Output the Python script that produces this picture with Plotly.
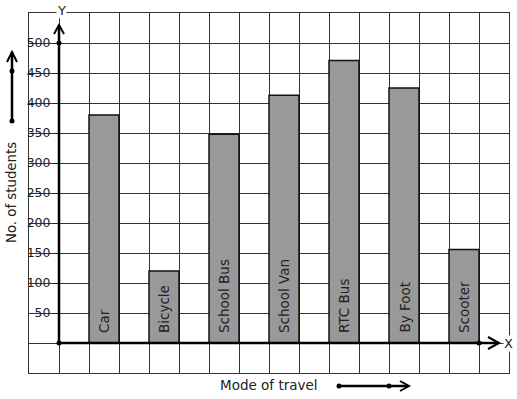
import plotly.graph_objects as go

# ---- data ----
modes = ["Car", "Bicycle", "School Bus", "School Van", "RTC Bus", "By Foot", "Scooter"]
students = [380, 120, 348, 413, 471, 425, 156]
y_tick_vals = [50, 100, 150, 200, 250, 300, 350, 400, 450, 500]
y_tick_text = [str(v) for v in y_tick_vals]
grid_y = list(range(-50, 551, 50))

W, H = 517, 399
L, R, T, B = 29, 8, 13, 26
PW, PH = W - L - R, H - T - B
FONT = "DejaVu Sans"
INK = "#222222"
GRID = "#333333"


def px(xp):
    return (xp - L) / PW


def py(yp):
    return (H - B - yp) / PH


x_pos = [1.5 + 2 * i for i in range(len(modes))]

fig = go.Figure()
fig.add_bar(
    x=x_pos, y=students, width=1,
    marker=dict(color="#999999", line=dict(color="#111111", width=1.5)),
    hoverinfo="skip", showlegend=False,
)
fig.add_scatter(x=[0], y=[0], yaxis="y2", mode="markers",
                marker=dict(opacity=0), showlegend=False, hoverinfo="skip")

shapes = []
# thick axes
y_top = 530
x_end = 14.667
shapes.append(dict(type="line", xref="x", yref="y", x0=0, x1=0, y0=0, y1=y_top,
                   line=dict(color="black", width=2.5)))
shapes.append(dict(type="path", xref="x", yref="y", xsizemode="pixel", ysizemode="pixel",
                   xanchor=0, yanchor=y_top, path="M-5,-9 L0,0 L5,-9",
                   line=dict(color="black", width=2)))
shapes.append(dict(type="line", xref="x", yref="y", x0=0, x1=x_end, y0=0, y1=0,
                   line=dict(color="black", width=2.5)))
shapes.append(dict(type="path", xref="x", yref="y", xsizemode="pixel", ysizemode="pixel",
                   xanchor=x_end, yanchor=0, path="M-11,6 L0,0 L-11,-6",
                   line=dict(color="black", width=2)))
for (dx, dy) in [(0, 0), (0, 500), (14, 0)]:
    shapes.append(dict(type="circle", xref="x", yref="y", xsizemode="pixel", ysizemode="pixel",
                       xanchor=dx, yanchor=dy, x0=-2.5, x1=2.5, y0=-2.5, y1=2.5,
                       fillcolor="black", line=dict(color="black", width=0)))

# left decorative arrow
shapes.append(dict(type="line", xref="paper", yref="paper", x0=px(12), x1=px(12),
                   y0=py(121), y1=py(52), line=dict(color="black", width=2.5)))
shapes.append(dict(type="path", xref="paper", yref="paper", xsizemode="pixel", ysizemode="pixel",
                   xanchor=px(12), yanchor=py(52), path="M-5,-10 L0,0 L5,-10",
                   line=dict(color="black", width=2)))
# bottom decorative arrow
shapes.append(dict(type="line", xref="paper", yref="paper", x0=px(339), x1=px(408),
                   y0=py(386), y1=py(386), line=dict(color="black", width=2.5)))
shapes.append(dict(type="path", xref="paper", yref="paper", xsizemode="pixel", ysizemode="pixel",
                   xanchor=px(409), yanchor=py(386), path="M-9,5 L0,0 L-9,-5",
                   line=dict(color="black", width=2)))
for (xp_, yp_) in [(12, 71), (12, 121), (339, 386), (389, 386)]:
    shapes.append(dict(type="circle", xref="paper", yref="paper", xsizemode="pixel", ysizemode="pixel",
                       xanchor=px(xp_), yanchor=py(yp_), x0=-2.5, x1=2.5, y0=-2.5, y1=2.5,
                       fillcolor="black", line=dict(color="black", width=0)))

annotations = []
for xc, name in zip(x_pos, modes):
    annotations.append(dict(x=xc, y=0, xref="x", yref="y", text=name, showarrow=False,
                            textangle=-90, yanchor="bottom", xanchor="center", yshift=8,
                            font=dict(family=FONT, size=13.5, color=INK)))


def label(xp_, yp_, text, size=13, angle=0, bg=None):
    d = dict(x=px(xp_), y=py(yp_), xref="paper", yref="paper", text=text, showarrow=False,
             xanchor="center", yanchor="middle", textangle=angle, borderpad=0,
             font=dict(family=FONT, size=size, color=INK))
    if bg:
        d["bgcolor"] = bg
    return d


annotations.append(label(61, 10, "Y", bg="white"))
annotations.append(label(508, 343, "X", bg="white"))
annotations.append(label(11, 193, "No. of students", size=13.3, angle=-90))
annotations.append(label(269, 385, "Mode of travel", size=13.5))

fig.update_layout(
    width=W, height=H,
    margin=dict(l=L, r=R, t=T, b=B, pad=0),
    paper_bgcolor="white", plot_bgcolor="white",
    showlegend=False,
    xaxis=dict(range=[-1, 15], tickmode="linear", tick0=-1, dtick=1, showgrid=True,
               gridcolor=GRID, gridwidth=1, showticklabels=False, zeroline=False,
               showline=True, mirror=True, linecolor=GRID, linewidth=1, ticks="",
               fixedrange=True),
    yaxis=dict(range=[-50, 550], tickmode="array", tickvals=grid_y, showticklabels=False,
               showgrid=True, gridcolor=GRID, gridwidth=1, zeroline=False,
               showline=True, mirror=True, linecolor=GRID, linewidth=1, ticks="",
               fixedrange=True),
    yaxis2=dict(overlaying="y", anchor="free", position=px(59), side="left",
                range=[-50, 550], tickmode="array", tickvals=y_tick_vals, ticktext=y_tick_text,
                ticks="outside", ticklen=6, tickwidth=1, tickcolor=INK, showgrid=False,
                zeroline=False, showline=False, fixedrange=True,
                tickfont=dict(family=FONT, size=12.5, color=INK)),
    shapes=shapes,
    annotations=annotations,
)

fig.write_html("out.html", config={"displayModeBar": False})
